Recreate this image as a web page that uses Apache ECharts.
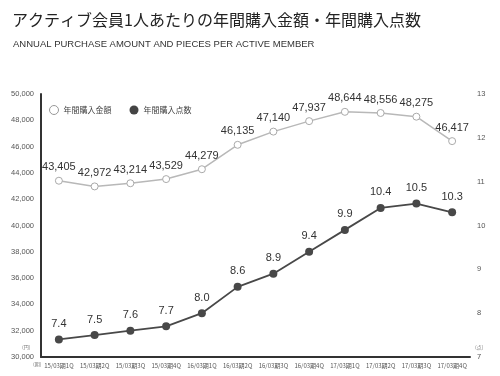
<!DOCTYPE html>
<html>
<head>
<meta charset="utf-8">
<script src="https://cdn.jsdelivr.net/npm/echarts@6/dist/echarts.min.js"></script>
<style>
  html, body { margin: 0; padding: 0; background: #fff; }
  #chart { width: 500px; height: 376px; }
</style>
</head>
<body>
<div id="chart"></div>
<script>
  const categories = [
    '15/03期1Q', '15/03期2Q', '15/03期3Q', '15/03期4Q',
    '16/03期1Q', '16/03期2Q', '16/03期3Q', '16/03期4Q',
    '17/03期1Q', '17/03期2Q', '17/03期3Q', '17/03期4Q'
  ]
  const amount = [43405, 42972, 43214, 43529, 44279, 46135, 47140, 47937, 48644, 48556, 48275, 46417]
  const pieces = [7.4, 7.5, 7.6, 7.7, 8.0, 8.6, 8.9, 9.4, 9.9, 10.4, 10.5, 10.3]

  const font = '"Noto Sans CJK JP", "Noto Sans", sans-serif'
  const latin = '"Liberation Sans", "Noto Sans CJK JP", sans-serif'
  const chart = echarts.init(document.getElementById('chart'))

  const option = {
    backgroundColor: '#fff',
    textStyle: { fontFamily: latin },
    title: [
      {
        text: 'アクティブ会員1人あたりの年間購入金額・年間購入点数',
        left: 7,
        top: 7,
        textStyle: { fontSize: 16, fontWeight: 'normal', color: '#222', fontFamily: font }
      },
      {
        text: 'ANNUAL PURCHASE AMOUNT AND PIECES PER ACTIVE MEMBER',
        left: 8,
        top: 35,
        textStyle: { fontSize: 9.5, fontWeight: 'normal', color: '#333', fontFamily: latin }
      }
    ],
    legend: {
      left: 44,
      top: 100,
      itemGap: 18,
      itemWidth: 9,
      itemHeight: 9,
      textStyle: { fontSize: 8, color: '#444', fontFamily: font },
      data: [
        { name: '年間購入金額', icon: 'circle', itemStyle: { color: '#fff', borderColor: '#999', borderWidth: 1 } },
        { name: '年間購入点数', icon: 'circle', itemStyle: { color: '#444' } }
      ]
    },
    grid: { left: 41, right: 30, top: 94, bottom: 19 },
    xAxis: {
      type: 'category',
      data: categories,
      boundaryGap: true,
      axisLine: { lineStyle: { color: '#333', width: 2 } },
      axisTick: { show: false },
      axisLabel: { fontSize: 6, color: '#555', interval: 0, margin: 6, fontFamily: font }
    },
    yAxis: [
      {
        type: 'value',
        min: 30000,
        max: 50000,
        interval: 2000,
        splitLine: { show: false },
        axisLine: { show: true, lineStyle: { color: '#333', width: 2 } },
        axisTick: { show: false },
        axisLabel: {
          fontSize: 7.5,
          color: '#555',
          margin: 7,
          formatter: (v) => v.toLocaleString('en-US')
        }
      },
      {
        type: 'value',
        min: 7,
        max: 13,
        interval: 1,
        splitLine: { show: false },
        axisLine: { show: false },
        axisTick: { show: false },
        axisLabel: { fontSize: 7.5, color: '#555', margin: 7 }
      }
    ],
    graphic: [
      { type: 'text', left: 22, top: 345, style: { text: '(円)', fontSize: 5, fill: '#777', fontFamily: font } },
      { type: 'text', left: 33, top: 362, style: { text: '(期)', fontSize: 5, fill: '#777', fontFamily: font } },
      { type: 'text', left: 475, top: 345, style: { text: '(点)', fontSize: 5, fill: '#777', fontFamily: font } }
    ],
    series: [
      {
        name: '年間購入金額',
        type: 'line',
        yAxisIndex: 0,
        data: amount,
        symbol: 'circle',
        symbolSize: 7,
        lineStyle: { color: '#b8b8b8', width: 1.5 },
        itemStyle: { color: '#fff', borderColor: '#aaa', borderWidth: 1 },
        label: {
          show: true,
          position: 'top',
          distance: 4,
          fontSize: 11,
          color: '#333',
          formatter: (p) => p.value.toLocaleString('en-US')
        }
      },
      {
        name: '年間購入点数',
        type: 'line',
        yAxisIndex: 1,
        data: pieces,
        symbol: 'circle',
        symbolSize: 8,
        lineStyle: { color: '#484848', width: 1.8 },
        itemStyle: { color: '#484848' },
        label: {
          show: true,
          position: 'top',
          distance: 6,
          fontSize: 11,
          color: '#333',
          formatter: (p) => p.value.toFixed(1)
        }
      }
    ]
  }

  chart.setOption(option)
</script>
</body>
</html>
